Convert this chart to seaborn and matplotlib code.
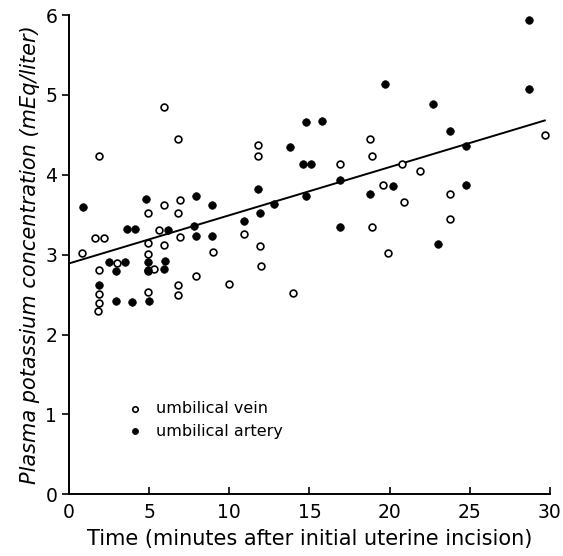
import numpy as np
import pandas as pd
import matplotlib
matplotlib.use("Agg")
import matplotlib.pyplot as plt
import seaborn as sns

# umbilical vein (open circles)
vein_x = [5.9, 6.8, 1.9, 6.9, 5.9, 4.9, 6.8, 1.6, 2.2, 5.6, 4.9, 5.9, 6.9, 0.8, 4.9,
          9.0, 3.0, 1.9, 4.9, 5.3, 7.9, 6.8, 10.0, 1.9, 4.9, 6.8, 1.9, 1.8, 11.8, 11.8,
          16.9, 18.8, 18.9, 19.6, 10.9, 11.9, 12.0, 14.0, 18.9, 19.9, 29.7, 20.8, 21.9,
          20.9, 23.8, 23.8]
vein_y = [4.85, 4.45, 4.23, 3.69, 3.62, 3.52, 3.52, 3.21, 3.21, 3.31, 3.14, 3.12, 3.22,
          3.02, 3.01, 3.03, 2.90, 2.81, 2.80, 2.82, 2.73, 2.62, 2.63, 2.51, 2.53, 2.50,
          2.40, 2.29, 4.37, 4.23, 4.14, 4.45, 4.24, 3.87, 3.26, 3.11, 2.86, 2.52, 3.35,
          3.02, 4.50, 4.14, 4.05, 3.66, 3.76, 3.45]

# umbilical artery (filled circles)
artery_x = [0.9, 4.8, 7.9, 8.9, 3.6, 4.1, 6.2, 7.8, 7.9, 8.9, 2.5, 3.5, 2.9, 4.9, 4.9,
            6.0, 5.9, 1.9, 2.9, 3.9, 5.0, 14.8, 15.8, 13.8, 14.6, 15.1, 11.8, 16.9, 18.8,
            20.2, 12.8, 14.8, 11.9, 10.9, 16.9, 28.7, 28.7, 19.7, 22.7, 23.8, 24.8, 24.8,
            23.0]
artery_y = [3.60, 3.70, 3.73, 3.62, 3.32, 3.32, 3.31, 3.36, 3.23, 3.23, 2.91, 2.91, 2.80,
            2.91, 2.81, 2.92, 2.82, 2.62, 2.42, 2.41, 2.42, 4.66, 4.67, 4.35, 4.14, 4.14,
            3.82, 3.93, 3.76, 3.86, 3.64, 3.73, 3.52, 3.42, 3.34, 5.94, 5.07, 5.14, 4.88,
            4.55, 4.36, 3.87, 3.13]

# regression line as printed
line_x = [0.0, 29.7]
line_intercept = 2.89
line_slope = 0.0603

x_ticks = [0, 5, 10, 15, 20, 25, 30]
y_ticks = [0, 1, 2, 3, 4, 5, 6]

vein = pd.DataFrame({"t": vein_x, "k": vein_y})
artery = pd.DataFrame({"t": artery_x, "k": artery_y})
line = pd.DataFrame({"t": line_x})
line["k"] = line_intercept + line_slope * line["t"]

sns.set_theme(style="ticks")
plt.rcParams["font.family"] = ["DejaVu Sans"]
plt.rcParams["text.color"] = "black"
plt.rcParams["axes.labelcolor"] = "black"
plt.rcParams["xtick.color"] = "black"
plt.rcParams["ytick.color"] = "black"

fig = plt.figure(figsize=(5.63, 5.56), dpi=100)
ax = fig.add_axes([0.1226, 0.111, 0.854, 0.862])

sns.lineplot(data=line, x="t", y="k", color="black", linewidth=1.4, ax=ax)
sns.scatterplot(data=vein, x="t", y="k", marker="o", s=24, facecolor="white",
                edgecolor="black", linewidth=1.2, label="umbilical vein", ax=ax, zorder=3)
sns.scatterplot(data=artery, x="t", y="k", marker="o", s=30, color="black",
                edgecolor="black", linewidth=0.5, label="umbilical artery", ax=ax, zorder=3)

ax.set_xlim(0, 30)
ax.set_ylim(0, 6)
ax.set_xticks(x_ticks)
ax.set_yticks(y_ticks)
ax.tick_params(axis="x", direction="in", length=5, width=1.2, labelsize=13.5, pad=6)
ax.tick_params(axis="y", direction="out", length=5, width=1.2, labelsize=13.5)
sns.despine(ax=ax)
for s in ["left", "bottom"]:
    ax.spines[s].set_linewidth(1.4)
    ax.spines[s].set_color("black")

ax.set_xlabel("Time (minutes after initial uterine incision)", fontsize=15, labelpad=5)
ax.set_ylabel("Plasma potassium concentration (mEq/liter)", fontsize=15,
              fontstyle="italic", labelpad=4)

ax.legend(loc="center left", bbox_to_anchor=(0.075, 0.155), frameon=False,
          fontsize=11.5, handletextpad=0.3, labelspacing=0.45, markerscale=0.8)

fig.savefig("out.png", dpi=100)
